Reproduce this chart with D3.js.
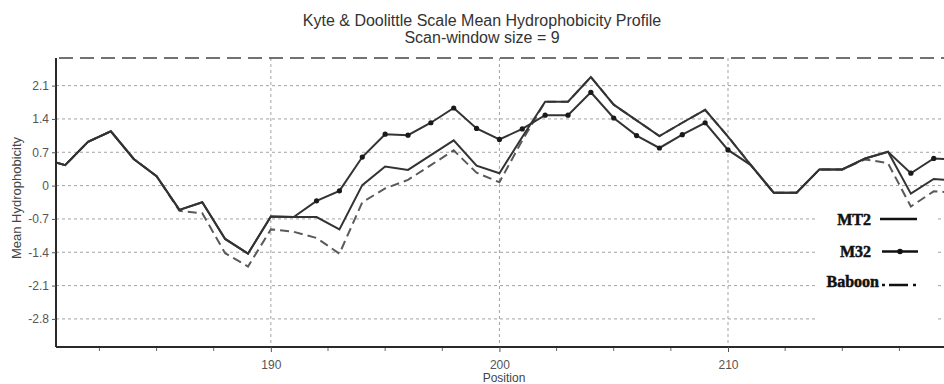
<!DOCTYPE html>
<html lang="en">
<head>
  <meta charset="UTF-8">
  <title>Kyte &amp; Doolittle Hydrophobicity Profile</title>
  <script src="https://d3js.org/d3.v7.min.js"></script>
  <style>
    body {
      margin: 0;
      background: #fff;
    }
    svg {
      display: block;
      font-family: "Liberation Sans", Arial, sans-serif;
    }
    .grid line {
      stroke: #a3a3a3;
      stroke-width: 1;
      stroke-dasharray: 3,3;
    }
    .axis text {
      fill: #555;
      font-size: 12px;
    }
    .axis .domain {
      stroke: #2a2a2a;
      stroke-width: 2;
    }
    .axis .tick line {
      stroke: #555;
    }
    .legend text {
      font-family: "Liberation Serif", "Times New Roman", serif;
      font-weight: bold;
      font-size: 16px;
      fill: #111;
      stroke: #111;
      stroke-width: 0.5;
    }
  </style>
</head>
<body>

<svg id="chart" width="944" height="384"></svg>

<script>
  // residue positions 180..220
  const positions = [180, 181, 182, 183, 184, 185, 186, 187, 188, 189,
                     190, 191, 192, 193, 194, 195, 196, 197, 198, 199,
                     200, 201, 202, 203, 204, 205, 206, 207, 208, 209,
                     210, 211, 212, 213, 214, 215, 216, 217, 218, 219, 220];

  const mt2 = [0.57, 0.43, 0.92, 1.14, 0.56, 0.20, -0.51, -0.35, -1.12, -1.43,
               -0.65, -0.66, -0.66, -0.92, 0.01, 0.40, 0.33, 0.64, 0.95, 0.42,
               0.26, 1.02, 1.76, 1.76, 2.28, 1.70, 1.37, 1.04, 1.32, 1.59,
               1.03, 0.43, -0.15, -0.15, 0.34, 0.34, 0.57, 0.71, -0.17, 0.14, 0.10];

  const m32 = [0.57, 0.43, 0.92, 1.14, 0.56, 0.20, -0.51, -0.35, -1.12, -1.43,
               -0.65, -0.66, -0.32, -0.11, 0.60, 1.08, 1.06, 1.32, 1.63, 1.20,
               0.97, 1.19, 1.48, 1.48, 1.96, 1.42, 1.05, 0.79, 1.07, 1.32,
               0.75, 0.43, -0.15, -0.15, 0.34, 0.34, 0.57, 0.71, 0.26, 0.57, 0.55];

  const baboon = [0.57, 0.43, 0.92, 1.14, 0.56, 0.20, -0.53, -0.58, -1.42, -1.70,
                  -0.92, -0.97, -1.10, -1.43, -0.35, -0.06, 0.12, 0.43, 0.74, 0.27,
                  0.07, 0.95, 1.76, 1.76, 2.28, 1.70, 1.37, 1.04, 1.32, 1.59,
                  1.03, 0.43, -0.15, -0.15, 0.34, 0.34, 0.55, 0.47, -0.44, -0.12, -0.15];

  const yTicks = [-2.8, -2.1, -1.4, -0.7, 0, 0.7, 1.4, 2.1];
  const xTicks = [190, 200, 210];
  const xMinorTicks = [182.5, 185, 187.5, 192.5, 195, 197.5, 202.5, 205, 207.5, 212.5, 215, 217.5];

  const svg = d3.select("#chart");
  const plotLeft = 56, plotRight = 944, plotTop = 58, plotBottom = 347;

  const x = d3.scaleLinear().domain([180.6, 219.45]).range([plotLeft, plotRight]);
  const y = d3.scaleLinear().domain([-3.39, 2.68]).range([plotBottom, plotTop]);

  // Title
  svg.append("text")
    .attr("x", 482).attr("y", 26)
    .attr("text-anchor", "middle")
    .attr("font-size", 16).attr("fill", "#333")
    .text("Kyte & Doolittle Scale Mean Hydrophobicity Profile");
  svg.append("text")
    .attr("x", 482).attr("y", 43)
    .attr("text-anchor", "middle")
    .attr("font-size", 16).attr("fill", "#333")
    .text("Scan-window size = 9");

  // Grid
  const grid = svg.append("g").attr("class", "grid");
  grid.selectAll(".h").data(yTicks).enter().append("line")
    .attr("x1", plotLeft).attr("x2", plotRight)
    .attr("y1", d => y(d)).attr("y2", d => y(d));
  grid.selectAll(".v").data(xTicks).enter().append("line")
    .attr("x1", d => x(d)).attr("x2", d => x(d))
    .attr("y1", plotTop).attr("y2", plotBottom);

  // dashed top border
  svg.append("line")
    .attr("x1", plotLeft + 3).attr("x2", plotRight)
    .attr("y1", plotTop).attr("y2", plotTop)
    .attr("stroke", "#444").attr("stroke-width", 1.5)
    .attr("stroke-dasharray", "14,7");

  // legend backdrop hides the grid
  svg.append("rect")
    .attr("x", 817).attr("y", 207).attr("width", 121).attr("height", 128)
    .attr("fill", "#fff");

  // Lines
  svg.append("clipPath").attr("id", "plot-clip")
    .append("rect")
    .attr("x", plotLeft).attr("y", plotTop)
    .attr("width", plotRight - plotLeft).attr("height", plotBottom - plotTop);

  const plot = svg.append("g").attr("clip-path", "url(#plot-clip)");

  const line = d3.line()
    .x((d, i) => x(positions[i]))
    .y(d => y(d));

  plot.append("path")
    .datum(baboon)
    .attr("fill", "none")
    .attr("stroke", "#5a5a5a")
    .attr("stroke-width", 2)
    .attr("stroke-dasharray", "9,5")
    .attr("d", line);

  plot.append("path")
    .datum(m32)
    .attr("fill", "none")
    .attr("stroke", "#333")
    .attr("stroke-width", 2)
    .attr("d", line);

  // markers only show where M32 leaves MT2
  plot.selectAll(".m32-dot")
    .data(positions.filter((p, i) => m32[i] !== mt2[i]))
    .enter()
    .append("circle")
    .attr("cx", d => x(d))
    .attr("cy", d => y(m32[positions.indexOf(d)]))
    .attr("r", 2.6)
    .attr("fill", "#1a1a1a");

  plot.append("path")
    .datum(mt2)
    .attr("fill", "none")
    .attr("stroke", "#333")
    .attr("stroke-width", 2)
    .attr("d", line);

  // Axes
  svg.append("g")
    .attr("class", "axis")
    .attr("transform", `translate(${plotLeft},0)`)
    .call(d3.axisLeft(y).tickValues(yTicks).tickSize(4).tickPadding(3)
      .tickFormat(d => String(d)))
    .call(g => g.select(".domain").attr("d", `M0,${plotTop}V${plotBottom}`));

  svg.append("g")
    .attr("class", "axis")
    .attr("transform", `translate(0,${plotBottom})`)
    .call(d3.axisBottom(x).tickValues(xTicks).tickSize(5).tickPadding(8)
      .tickFormat(d => String(d)))
    .call(g => g.select(".domain").attr("d", `M${plotLeft},0H${plotRight}`));

  svg.append("g")
    .attr("transform", `translate(0,${plotBottom})`)
    .selectAll("line")
    .data(xMinorTicks)
    .enter()
    .append("line")
    .attr("x1", d => x(d)).attr("x2", d => x(d))
    .attr("y1", 1).attr("y2", 4)
    .attr("stroke", "#666");

  // Axis titles
  svg.append("text")
    .attr("transform", "translate(21,198) rotate(-90)")
    .attr("text-anchor", "middle")
    .attr("font-size", 13).attr("fill", "#444")
    .text("Mean  Hydrophobicity");

  svg.append("text")
    .attr("x", 504).attr("y", 382)
    .attr("text-anchor", "middle")
    .attr("font-size", 12).attr("fill", "#444")
    .text("Position");

  // Legend
  const legend = svg.append("g").attr("class", "legend");

  legend.append("text").attr("x", 871).attr("y", 225)
    .attr("text-anchor", "end").text("MT2");
  legend.append("line")
    .attr("x1", 880).attr("x2", 917).attr("y1", 219).attr("y2", 219)
    .attr("stroke", "#111").attr("stroke-width", 2.5);

  legend.append("text").attr("x", 871).attr("y", 257)
    .attr("text-anchor", "end").text("M32");
  legend.append("line")
    .attr("x1", 882).attr("x2", 918).attr("y1", 251.5).attr("y2", 251.5)
    .attr("stroke", "#111").attr("stroke-width", 2.5);
  legend.append("circle")
    .attr("cx", 900).attr("cy", 251.5).attr("r", 2.8).attr("fill", "#111");

  legend.append("text").attr("x", 879).attr("y", 287)
    .attr("text-anchor", "end").text("Baboon");
  legend.append("line")
    .attr("x1", 882).attr("x2", 918).attr("y1", 285).attr("y2", 285)
    .attr("stroke", "#111").attr("stroke-width", 2.5)
    .attr("stroke-dasharray", "3,4,19,5,3");
</script>

</body>
</html>
